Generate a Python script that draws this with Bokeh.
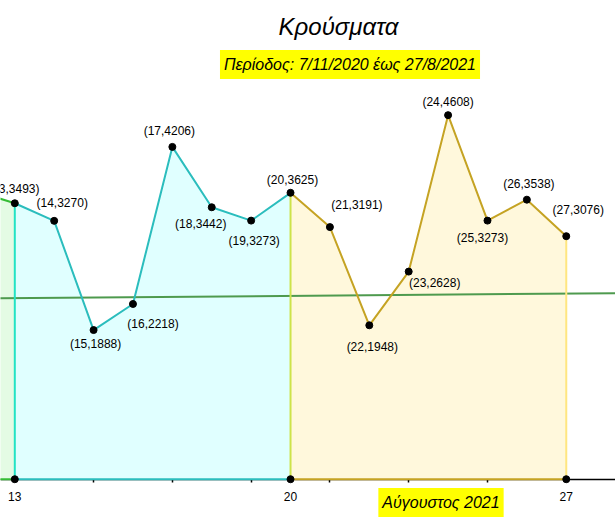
from bokeh.plotting import figure
from bokeh.models import ColumnDataSource, Range1d, FixedTicker, Label
from bokeh.embed import file_html
from bokeh.resources import INLINE
from bokeh.core.properties import value

# ---- data ----
days = [12, 13, 14, 15, 16, 17, 18, 19, 20, 21, 22, 23, 24, 25, 26, 27]
cases = [3650, 3493, 3270, 1888, 2218, 4206, 3442, 3273, 3625, 3191, 1948, 2628, 4608, 3273, 3538, 3076]
week_bounds = [13, 20, 27]
minor_tick_days = [15, 17, 19, 21, 23, 25]
trend_days = [12, 29]
trend_cases = [2288, 2357]
title_text = "Κρούσματα"
subtitle_text = "Περίοδος: 7/11/2020 έως 27/8/2021"
month_text = "Αύγουστος 2021"

# ---- layout / style ----
FONT = "Liberation Sans"
label_dx = [-1, 8, 2, 20, -3, -11, 3, 2, 27, 3, 26, 0, -5, 2, 12]
label_dy = [-14, -18, 14, 20, -16, 17, 20, -13, -22, 22, 11, -13, 17, -16, -26]

p = figure(width=615, height=530, x_range=Range1d(12.637, 28.250), y_range=Range1d(-649, 6059),
           min_border=0, toolbar_location=None, output_backend="svg", y_axis_location=None)
p.outline_line_color = None
p.grid.visible = False
p.background_fill_color = "white"
p.border_fill_color = "white"

ax = p.xaxis[0]
ax.fixed_location = 0
ax.ticker = FixedTicker(ticks=week_bounds, minor_ticks=minor_tick_days)
ax.major_tick_in = 0
ax.major_tick_out = 0
ax.minor_tick_in = 0
ax.minor_tick_out = 3
ax.minor_tick_line_color = "black"
ax.minor_tick_line_width = 1.5
ax.axis_line_color = "black"
ax.axis_line_width = 1.5
ax.major_label_text_font = FONT
ax.major_label_text_font_size = "12px"
ax.major_label_text_color = "black"
ax.major_label_standoff = 10
ax.level = "underlay"

def seg(lo, hi):
    idx = [i for i, d in enumerate(days) if lo <= d <= hi]
    return [days[i] for i in idx], [cases[i] for i in idx]

b0, b1, b2 = week_bounds
groups = [
    (days[0], b0, "#E4FBE4", "#34BC34", "#34BC34"),
    (b0, b1, "#E0FFFF", "#2BBDBD", "#2BBDBD"),
    (b1, b2, "#FFF8DC", "#C5A323", "#C5A323"),
]
for lo, hi, fill, line, base in groups:
    xs, ys = seg(lo, hi)
    p.varea(x=xs, y1=[0] * len(xs), y2=ys, fill_color=fill)

# trend line
p.line(trend_days, trend_cases, line_color="#4E9A4E", line_width=2)

for lo, hi, fill, line, base in groups:
    xs, ys = seg(lo, hi)
    p.line(xs, ys, line_color=line, line_width=2)
    p.line([xs[0], xs[-1]], [0, 0], line_color=base, line_width=2)

# vertical boundary lines
vcols = ["#22E3C4", "#CDE34A", "#FFE680"]
for b, c in zip(week_bounds, vcols):
    v = cases[days.index(b)]
    p.line([b, b], [0, v], line_color=c, line_width=2)

# points
shown = [i for i, d in enumerate(days) if d >= b0]
px = [days[i] for i in shown]
py = [cases[i] for i in shown]
p.scatter(px, py, size=7, color="black")
p.scatter(week_bounds, [0] * len(week_bounds), size=7, color="black")

src = ColumnDataSource(dict(x=px, y=py, t=[f"({d},{v})" for d, v in zip(px, py)],
                            dx=label_dx, dy=label_dy))
p.text(x="x", y="y", text="t", x_offset="dx", y_offset="dy", source=src,
       text_font=value(FONT), text_font_size="12px", text_color="black",
       text_align="center", text_baseline="middle")

# title and boxed texts
p.add_layout(Label(x=338, y=504, x_units="screen", y_units="screen", text=title_text,
                   text_font=FONT, text_font_size="24px", text_font_style="italic",
                   text_color="black", text_align="center", text_baseline="alphabetic"))
p.add_layout(Label(x=349.5, y=466, x_units="screen", y_units="screen", text=subtitle_text,
                   text_font=FONT, text_font_size="16px", text_font_style="italic",
                   text_color="black", text_align="center", text_baseline="middle",
                   background_fill_color="#FFFF00",
                   padding=dict(left=4, right=4, top=6, bottom=6)))
p.add_layout(Label(x=440.5, y=28, x_units="screen", y_units="screen", text=month_text,
                   text_font=FONT, text_font_size="16px", text_font_style="italic",
                   text_color="black", text_align="center", text_baseline="middle",
                   background_fill_color="#FFFF00",
                   padding=dict(left=4, right=4, top=6, bottom=6)))

open("out.html", "w").write(file_html(p, INLINE))
